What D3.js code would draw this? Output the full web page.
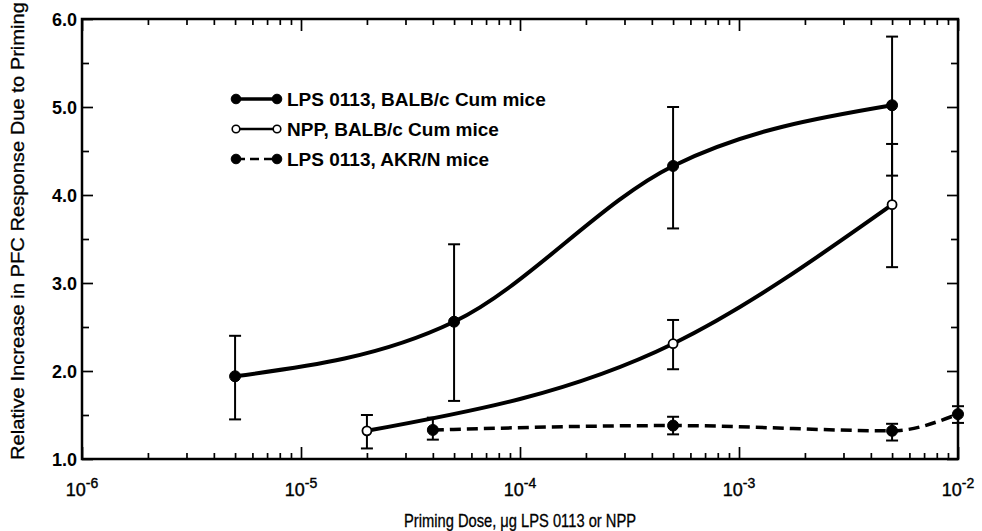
<!DOCTYPE html>
<html>
<head>
<meta charset="utf-8">
<script src="https://cdn.jsdelivr.net/npm/d3@7"></script>
<style>
  body { margin: 0; background: #fff; }
  svg text { font-family: "Liberation Sans", Arial, sans-serif; fill: #000; }
</style>
</head>
<body>
<svg width="982" height="531"></svg>
<script>
// LPS 0113, BALB/c Cum mice
var dosesLps = [5e-6, 5e-5, 5e-4, 5e-3];
var respLps = [1.94, 2.56, 4.33, 5.02];
var loLps = [1.45, 1.66, 3.62, 4.22];
var hiLps = [2.40, 3.44, 5.00, 5.80];

// NPP, BALB/c Cum mice
var dosesNpp = [2e-5, 5e-4, 5e-3];
var respNpp = [1.32, 2.31, 3.89];
var loNpp = [1.12, 2.02, 3.18];
var hiNpp = [1.50, 2.58, 4.58];

// LPS 0113, AKR/N mice
var dosesAkr = [4e-5, 5e-4, 5e-3, 1e-2];
var respAkr = [1.33, 1.38, 1.32, 1.51];
var loAkr = [1.22, 1.28, 1.21, 1.41];
var hiAkr = [1.47, 1.48, 1.40, 1.60];

var legendLabels = ['LPS 0113, BALB/c Cum mice', 'NPP, BALB/c Cum mice', 'LPS 0113, AKR/N mice'];
var yTicks = [1, 2, 3, 4, 5, 6];
var xDecades = [-6, -5, -4, -3, -2];

var margins = {top: 19, right: 24, bottom: 72, left: 82},
	svgWidth = 982, svgHeight = 531,
	width = svgWidth - margins.left - margins.right,
	height = svgHeight - margins.top - margins.bottom;

var vis = d3.select('svg');
var g = vis.append('g')
	.attr('transform', 'translate(' + margins.left + ',' + margins.top + ')');

var x = d3.scaleLog().domain([1e-6, 1e-2]).range([0, width]);
var y = d3.scaleLinear().domain([1, 6]).range([height, 0]);

// minor ticks
var xMinor = [];
for (var e = -6; e < -2; e++) {
	for (var m = 2; m <= 9; m++) xMinor.push(m * Math.pow(10, e));
}
var xMajor = xDecades.map(function(d) { return Math.pow(10, d); });
var yMinor = d3.range(1.5, 6, 1);

function styleAxis(sel) {
	sel.select('.domain').remove();
	sel.selectAll('line').attr('stroke', '#000').attr('stroke-width', 1.7);
	sel.selectAll('text').remove();
}

// x axes (ticks inward)
g.append('g').attr('transform', 'translate(0,' + height + ')')
	.call(d3.axisBottom(x).tickValues(xMajor).tickSize(-12)).call(styleAxis);
g.append('g').attr('transform', 'translate(0,' + height + ')')
	.call(d3.axisBottom(x).tickValues(xMinor).tickSize(-6)).call(styleAxis);
g.append('g')
	.call(d3.axisTop(x).tickValues(xMajor).tickSize(-12)).call(styleAxis);
g.append('g')
	.call(d3.axisTop(x).tickValues(xMinor).tickSize(-6)).call(styleAxis);

// y axes
g.append('g').call(d3.axisLeft(y).tickValues(yTicks).tickSize(-11)).call(styleAxis);
g.append('g').call(d3.axisLeft(y).tickValues(yMinor).tickSize(-7)).call(styleAxis);
g.append('g').attr('transform', 'translate(' + width + ',0)')
	.call(d3.axisRight(y).tickValues(yTicks).tickSize(-11)).call(styleAxis);
g.append('g').attr('transform', 'translate(' + width + ',0)')
	.call(d3.axisRight(y).tickValues(yMinor).tickSize(-7)).call(styleAxis);

// frame
g.append('rect')
	.attr('width', width).attr('height', height)
	.attr('fill', 'none').attr('stroke', '#000').attr('stroke-width', 2.5);

// y tick labels
g.selectAll('.ylab').data(yTicks).enter().append('text')
	.attr('x', -5).attr('y', function(d) { return y(d) + 6.5; })
	.attr('text-anchor', 'end').attr('font-size', 18).attr('font-weight', 'bold')
	.text(function(d) { return d.toFixed(1); });

// x tick labels with exponents
var xl = g.selectAll('.xlab').data(xDecades).enter().append('text')
	.attr('x', function(d) { return x(Math.pow(10, d)); })
	.attr('y', height + 37)
	.attr('text-anchor', 'middle').attr('font-size', 18)
	.attr('stroke', '#000').attr('stroke-width', 0.4);
xl.append('tspan').text('10');
xl.append('tspan').attr('dy', -8).attr('font-size', 14).text(function(d) { return '-' + (-d); });

// axis titles
g.append('text')
	.attr('x', width / 2).attr('y', height + 68)
	.attr('text-anchor', 'middle').attr('font-size', 18)
	.attr('stroke', '#000').attr('stroke-width', 0.3)
	.attr('textLength', 232).attr('lengthAdjust', 'spacingAndGlyphs')
	.text('Priming Dose, \u03bcg LPS 0113 or NPP');
g.append('text')
	.attr('transform', 'translate(-58,' + (height / 2 - 8) + ') rotate(-90)')
	.attr('text-anchor', 'middle').attr('font-size', 18)
	.attr('stroke', '#000').attr('stroke-width', 0.3)
	.attr('textLength', 458).attr('lengthAdjust', 'spacingAndGlyphs')
	.text('Relative Increase in PFC Response Due to Priming');

function zip(xs, ys, los, his) {
	return xs.map(function(d, i) { return {dose: d, v: ys[i], lo: los[i], hi: his[i]}; });
}
var series = [
	{data: zip(dosesLps, respLps, loLps, hiLps), open: false, dash: null},
	{data: zip(dosesNpp, respNpp, loNpp, hiNpp), open: true, dash: null},
	{data: zip(dosesAkr, respAkr, loAkr, hiAkr), open: false, dash: '11,6'}
];

var line = d3.line()
	.x(function(d) { return x(d.dose); })
	.y(function(d) { return y(d.v); })
	.curve(d3.curveMonotoneX);

series.forEach(function(s) {
	g.append('path').datum(s.data)
		.attr('d', line).attr('fill', 'none')
		.attr('stroke', '#000').attr('stroke-width', s.dash ? 3.5 : 4)
		.attr('stroke-dasharray', s.dash);
});

// error bars
series.forEach(function(s) {
	var eb = g.append('g').selectAll('g').data(s.data).enter().append('g')
		.attr('stroke', '#000').attr('stroke-width', 2);
	eb.append('line')
		.attr('x1', function(d) { return x(d.dose); }).attr('x2', function(d) { return x(d.dose); })
		.attr('y1', function(d) { return y(d.lo); }).attr('y2', function(d) { return y(d.hi); });
	eb.append('line')
		.attr('x1', function(d) { return x(d.dose) - 6; }).attr('x2', function(d) { return x(d.dose) + 6; })
		.attr('y1', function(d) { return y(d.lo); }).attr('y2', function(d) { return y(d.lo); });
	eb.append('line')
		.attr('x1', function(d) { return x(d.dose) - 6; }).attr('x2', function(d) { return x(d.dose) + 6; })
		.attr('y1', function(d) { return y(d.hi); }).attr('y2', function(d) { return y(d.hi); });
});

// markers
series.forEach(function(s) {
	g.append('g').selectAll('circle').data(s.data).enter().append('circle')
		.attr('cx', function(d) { return x(d.dose); })
		.attr('cy', function(d) { return y(d.v); })
		.attr('r', s.open ? 4.5 : 5.5)
		.attr('fill', s.open ? '#fff' : '#000')
		.attr('stroke', '#000').attr('stroke-width', s.open ? 1.8 : 1);
});

// legend
var legend = vis.append('g');
legendLabels.forEach(function(lab, i) {
	var ly = 99 + i * 30, s = series[i];
	legend.append('line')
		.attr('x1', 236).attr('x2', 277).attr('y1', ly).attr('y2', ly)
		.attr('stroke', '#000').attr('stroke-width', i === 0 ? 3.5 : 2.5)
		.attr('stroke-dasharray', i === 2 ? '9,5' : null);
	[236, 277].forEach(function(cx) {
		legend.append('circle').attr('cx', cx).attr('cy', ly)
			.attr('r', s.open ? 3.8 : 4.8)
			.attr('fill', s.open ? '#fff' : '#000')
			.attr('stroke', '#000').attr('stroke-width', s.open ? 1.6 : 1);
	});
	legend.append('text')
		.attr('x', 287).attr('y', ly + 7)
		.attr('font-size', 19).attr('font-weight', 'bold')
		.text(lab);
});
</script>
</body>
</html>
